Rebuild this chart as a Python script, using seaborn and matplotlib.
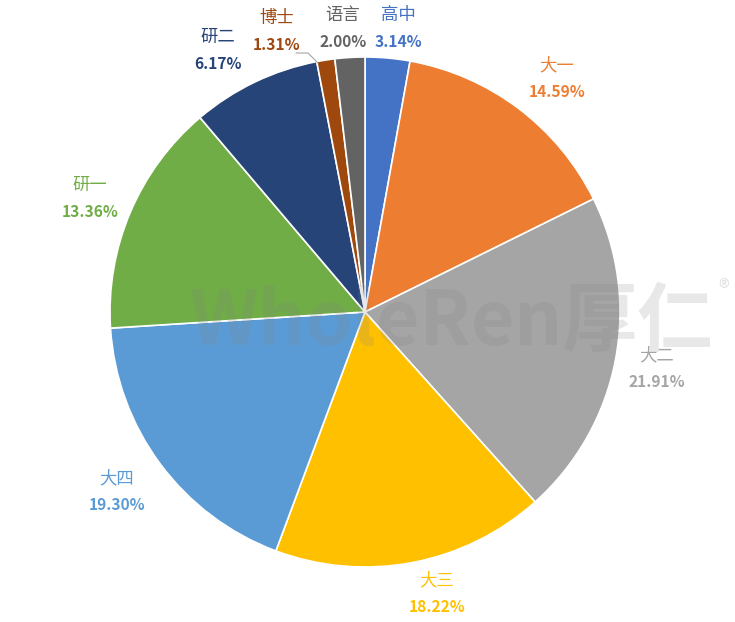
import matplotlib
matplotlib.use("Agg")
import matplotlib.pyplot as plt
import seaborn as sns

categories = ["高中", "大一", "大二", "大三", "大四", "研一", "研二", "博士", "语言"]
# percentages printed on the labels
label_pcts = [3.14, 14.59, 21.91, 18.22, 19.30, 13.36, 6.17, 1.31, 2.00]
# slice sizes as drawn in the picture
slice_sizes = [2.83, 14.86, 20.69, 17.31, 18.31, 14.81, 8.17, 1.14, 1.89]
colors = ["#4472C4", "#ED7D31", "#A5A5A5", "#FFC000", "#5B9BD5",
          "#70AD47", "#264478", "#9E480E", "#636363"]

# label centre positions in figure pixels (x, y of category name)
label_px = [(398, 15), (557, 65), (657, 355), (437, 580), (117, 478),
            (90, 185), (218, 37), (277, 18), (343, 15)]

sns.set_theme(style="white")
plt.rcParams['font.family'] = ['Noto Sans CJK SC', 'DejaVu Sans']

W, H = 735, 622
fig = plt.figure(figsize=(W / 100, H / 100), dpi=100)
fig.patch.set_facecolor("white")

cx, cy, r = 365, 312, 255
ax = fig.add_axes([(cx - r) / W, (H - cy - r) / H, 2 * r / W, 2 * r / H])
ax.pie(slice_sizes, colors=colors, startangle=90, counterclock=False,
       wedgeprops=dict(edgecolor="white", linewidth=1.2), radius=1.0)
ax.set_xlim(-1, 1)
ax.set_ylim(-1, 1)
ax.set_aspect("equal")
ax.axis("off")

def fx(px):
    return px / W

def fy(py):
    return 1 - py / H

for cat, val, col, (lx, ly) in zip(categories, label_pcts, colors, label_px):
    fig.text(fx(lx), fy(ly), cat, color=col, fontsize=12.5,
             ha="center", va="center")
    fig.text(fx(lx), fy(ly + 27), f"{val:.2f}%", color=col, fontsize=11.2,
             fontweight="bold", ha="center", va="center")

# leader line for 博士
fig.add_artist(plt.Line2D([fx(296), fx(308), fx(318)], [fy(53), fy(53), fy(63)],
                          color="#a6a6a6", linewidth=0.8))

# watermark
fig.text(fx(190), fy(322), "WholeRen厚仁", color="#808080", alpha=0.18,
         fontsize=54, fontweight="bold", style="italic",
         ha="left", va="center", zorder=10)
fig.text(fx(724), fy(290), "®", color="#808080", alpha=0.25,
         fontsize=16, ha="center", va="center", zorder=10)

fig.savefig("out.png", dpi=100, facecolor="white")
